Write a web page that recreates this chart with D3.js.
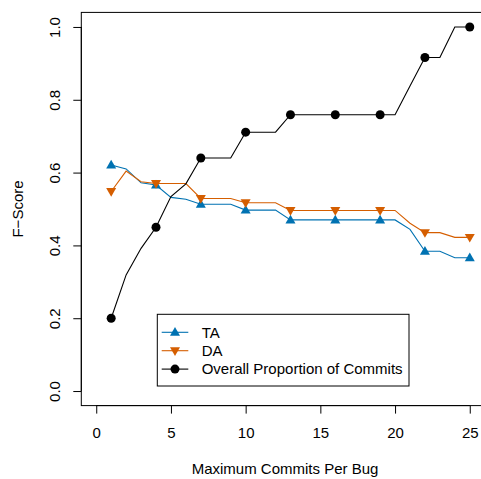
<!DOCTYPE html>
<html>
<head>
<meta charset="utf-8">
<title>F-Score</title>
<style>
  body { margin: 0; background: #fff; }
  text { font-family: "Liberation Sans", Arial, sans-serif; }
</style>
</head>
<body>
<div id="plot"></div>
<script src="https://cdn.jsdelivr.net/npm/d3@7"></script>
<script>

// commits per bug 1..25
let commits = d3.range(1, 26);
let taScore = [0.621, 0.61, 0.572, 0.566, 0.532, 0.527, 0.513, 0.513, 0.513, 0.497,
               0.497, 0.497, 0.47, 0.47, 0.47, 0.47, 0.47, 0.47, 0.47, 0.47,
               0.444, 0.384, 0.384, 0.366, 0.366];
let daScore = [0.548, 0.604, 0.575, 0.57, 0.57, 0.57, 0.529, 0.529, 0.529, 0.517,
               0.517, 0.517, 0.496, 0.496, 0.496, 0.496, 0.496, 0.496, 0.496, 0.496,
               0.461, 0.435, 0.435, 0.422, 0.422];
let overall = [0.2, 0.319, 0.392, 0.45, 0.534, 0.569, 0.64, 0.64, 0.64, 0.711,
               0.711, 0.711, 0.759, 0.759, 0.759, 0.759, 0.759, 0.759, 0.759, 0.759,
               0.838, 0.916, 0.916, 1.0, 1.0];
let markerAt = [1, 4, 7, 10, 13, 16, 19, 22, 25];
let xTicks = [0, 5, 10, 15, 20, 25];
let yTicks = [0, 0.2, 0.4, 0.6, 0.8, 1.0];
let seriesNames = ['TA', 'DA', 'Overall Proportion of Commits'];

let colors = {TA: '#0072B2', DA: '#D55E00', Overall: '#000000'};

let svgWidth = 481, svgHeight = 479;
let box = {left: 81.3, right: 484.7, top: 12.4, bottom: 405.6};

let svg = d3.select('#plot').append('svg')
  .attr('width', svgWidth)
  .attr('height', svgHeight);

let x = d3.scaleLinear().domain([-1, 26]).range([box.left, box.right]);
let y = d3.scaleLinear().domain([-0.04, 1.04]).range([box.bottom, box.top]);

// box
svg.append('rect')
  .attr('x', box.left).attr('y', box.top)
  .attr('width', box.right - box.left).attr('height', box.bottom - box.top)
  .attr('fill', 'none').attr('stroke', '#000').attr('stroke-width', 1);

// axes
let xAxis = svg.append('g')
  .attr('transform', 'translate(0,' + box.bottom + ')')
  .call(d3.axisBottom(x).tickValues(xTicks).tickSize(8).tickPadding(14).tickSizeOuter(0));
xAxis.select('.domain')
  .attr('d', 'M' + x(0) + ',0H' + x(25));
xAxis.selectAll('text').style('font-size', '15px').attr('fill', '#000');

let yAxis = svg.append('g')
  .attr('transform', 'translate(' + box.left + ',0)')
  .call(d3.axisLeft(y).tickValues(yTicks).tickFormat(d3.format('.1f')).tickSize(8).tickSizeOuter(0));
yAxis.select('.domain').attr('d', 'M0,' + y(0) + 'V' + y(1));
yAxis.selectAll('.tick text')
  .style('font-size', '15px')
  .attr('fill', '#000')
  .attr('x', 0).attr('dy', null)
  .attr('text-anchor', 'middle')
  .attr('transform', 'translate(-21,0) rotate(-90)');

// axis titles
svg.append('text')
  .attr('x', (x(0) + x(25)) / 2 + 2)
  .attr('y', 474)
  .attr('text-anchor', 'middle')
  .style('font-size', '15px')
  .text('Maximum Commits Per Bug');

svg.append('text')
  .attr('transform', 'translate(23,' + ((box.top + box.bottom) / 2) + ') rotate(-90)')
  .attr('text-anchor', 'middle')
  .style('font-size', '15px')
  .text('F\u2212Score');

function triUp(cx, cy) {
  return 'M' + (cx - 5) + ',' + (cy + 3.5) + 'L' + (cx + 5) + ',' + (cy + 3.5) + 'L' + cx + ',' + (cy - 5.2) + 'Z';
}
function triDown(cx, cy) {
  return 'M' + (cx - 5) + ',' + (cy - 3.5) + 'L' + (cx + 5) + ',' + (cy - 3.5) + 'L' + cx + ',' + (cy + 5.2) + 'Z';
}

let line = d3.line().x(d => x(d[0])).y(d => y(d[1]));

function drawSeries(values, color, marker) {
  let pts = commits.map((c, i) => [c, values[i]]);
  svg.append('path')
    .datum(pts)
    .attr('d', line)
    .attr('fill', 'none')
    .attr('stroke', color)
    .attr('stroke-width', 1.1);
  let mk = pts.filter(p => markerAt.includes(p[0]));
  if (marker === 'circle') {
    svg.selectAll(null).data(mk).enter().append('circle')
      .attr('cx', d => x(d[0])).attr('cy', d => y(d[1]))
      .attr('r', 4.5).attr('fill', color);
  } else {
    svg.selectAll(null).data(mk).enter().append('path')
      .attr('d', d => marker === 'up' ? triUp(x(d[0]), y(d[1])) : triDown(x(d[0]), y(d[1])))
      .attr('fill', color);
  }
}

drawSeries(taScore, colors.TA, 'up');
drawSeries(daScore, colors.DA, 'down');
drawSeries(overall, colors.Overall, 'circle');

// legend
let legend = svg.append('g');
legend.append('rect')
  .attr('x', 157.3).attr('y', 314.3)
  .attr('width', 251.7).attr('height', 71.7)
  .attr('fill', '#fff').attr('stroke', '#000').attr('stroke-width', 1);

let legendItems = [
  {name: seriesNames[0], color: colors.TA, marker: 'up'},
  {name: seriesNames[1], color: colors.DA, marker: 'down'},
  {name: seriesNames[2], color: colors.Overall, marker: 'circle'}
];
legendItems.forEach(function(d, i) {
  let ly = 332.3 + i * 18.4;
  legend.append('line')
    .attr('x1', 161.7).attr('x2', 188.3).attr('y1', ly).attr('y2', ly)
    .attr('stroke', d.color).attr('stroke-width', 1.1);
  if (d.marker === 'circle') {
    legend.append('circle').attr('cx', 175).attr('cy', ly).attr('r', 4.5).attr('fill', d.color);
  } else {
    legend.append('path')
      .attr('d', d.marker === 'up' ? triUp(175, ly) : triDown(175, ly))
      .attr('fill', d.color);
  }
  legend.append('text')
    .attr('x', 201.7).attr('y', ly + 5.3)
    .style('font-size', '15px')
    .text(d.name);
});

</script>
</body>
</html>
